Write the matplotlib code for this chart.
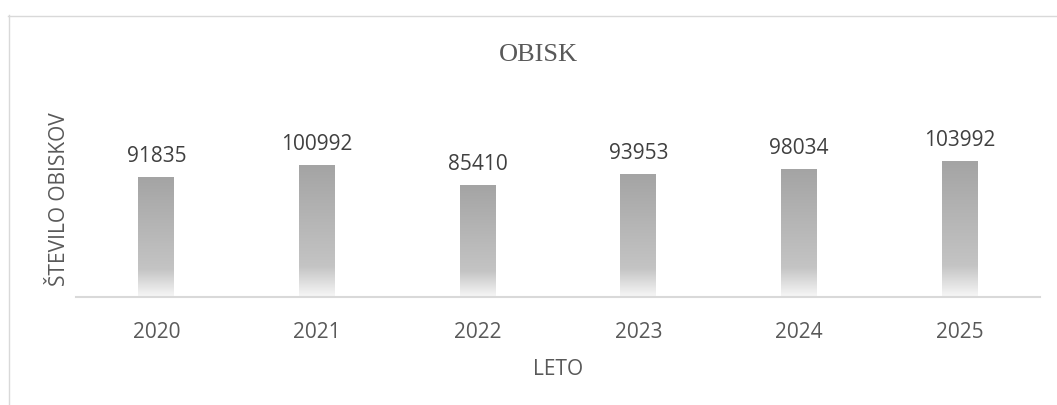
import numpy as np
import matplotlib
matplotlib.use("Agg")
import matplotlib.pyplot as plt
from matplotlib.colors import LinearSegmentedColormap
from matplotlib.lines import Line2D

years = ["2020", "2021", "2022", "2023", "2024", "2025"]
visits = [91835, 100992, 85410, 93953, 98034, 103992]

W, H = 1057, 406
fig = plt.figure(figsize=(W / 100, H / 100), dpi=100)
fig.patch.set_facecolor("white")

# chart frame (left and top edges visible)
frame = "#d9d9d9"
fig.add_artist(Line2D([8.5 / W, 8.5 / W], [0, 1 - 16 / H], color=frame, lw=1))
fig.add_artist(Line2D([8 / W, 1], [1 - 16.5 / H, 1 - 16.5 / H], color=frame, lw=1))

ax = fig.add_axes([76 / W, (H - 298) / H, (1040 - 76) / W, 198 / H])

grad = LinearSegmentedColormap.from_list(
    "bar", [(0, "#f7f7f7"), (0.23, "#c4c4c4"), (1, "#a4a4a4")])
g = np.linspace(0, 1, 256).reshape(-1, 1)
bw = 0.224
x = np.arange(len(years))
for xi, v in zip(x, visits):
    ax.imshow(g, cmap=grad, origin="lower", aspect="auto",
              extent=(xi - bw / 2, xi + bw / 2, 0, v), zorder=2,
              interpolation="bilinear")
    ax.annotate(str(v), (xi, v), xytext=(0, 12), textcoords="offset points",
                ha="center", va="baseline", fontsize=15, color="#404040",
                family="Open Sans")

ax.set_xlim(-0.5, len(years) - 0.5)
ax.set_ylim(0, 152000)
ax.set_xticks(x)
ax.set_xticklabels(years, family="Open Sans", fontsize=15, color="#595959")
ax.set_yticks([])
ax.tick_params(axis="x", length=0, pad=17)

for s in ["top", "right", "left"]:
    ax.spines[s].set_visible(False)
ax.spines["bottom"].set_color("#d9d9d9")
ax.spines["bottom"].set_linewidth(1.5)

ax.set_xlabel("LETO", family="Open Sans", fontsize=15, color="#595959", labelpad=12)
ax.set_ylabel("ŠTEVILO OBISKOV", family="Open Sans", fontsize=15, color="#595959", labelpad=4)

fig.text(538 / W, 1 - 61 / H, "OBISK", family="Liberation Serif", fontsize=19,
         color="#595959", ha="center", va="baseline")

fig.savefig("out.png", dpi=100)
